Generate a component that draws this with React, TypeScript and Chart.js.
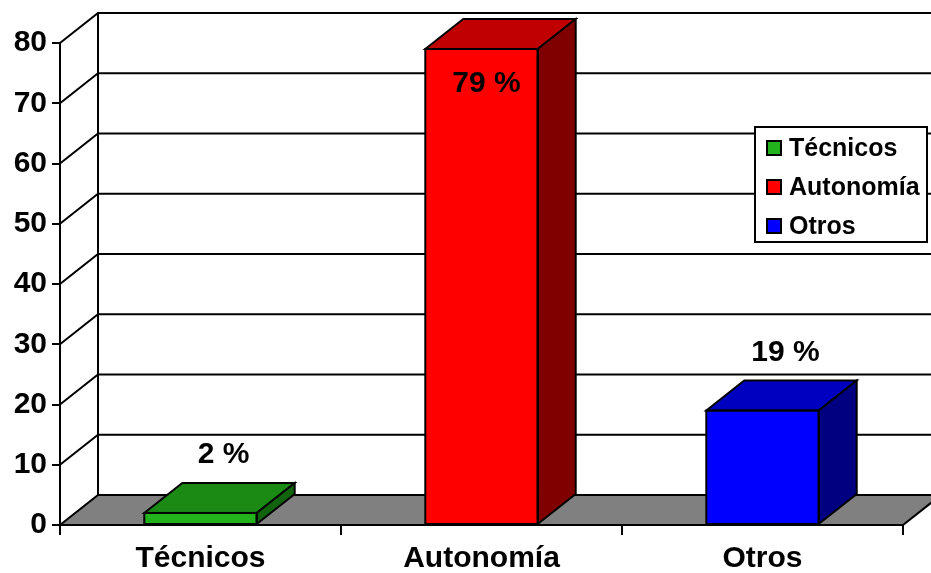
import React, { useEffect, useRef } from "react";
import { Chart, registerables } from "chart.js";

Chart.register(...registerables);

const categories = ["Técnicos", "Autonomía", "Otros"];
const values = [2, 79, 19];
const valueLabels = ["2 %", "79 %", "19 %"];
const yMin = 0;
const yMax = 80;
const yStep = 10;

const frontColors = ["#22B21C", "#FF0000", "#0000FF"];
const topColors = ["#1A8A14", "#C00000", "#0000C0"];
const sideColors = ["#11640D", "#800000", "#000080"];

const DX = 38;
const DY = -30;
const FONT = "'Liberation Sans', Arial, Helvetica, sans-serif";

const threeDPlugin = {
  id: "threeD",
  beforeDraw(chart: any) {
    const { ctx, chartArea: ca, scales } = chart;
    const y = scales.y;
    const y0 = y.getPixelForValue(yMin);
    ctx.save();
    ctx.lineWidth = 2;
    ctx.strokeStyle = "#000";
    ctx.lineJoin = "miter";
    // floor
    ctx.beginPath();
    ctx.moveTo(ca.left, y0);
    ctx.lineTo(ca.right, y0);
    ctx.lineTo(ca.right + DX, y0 + DY);
    ctx.lineTo(ca.left + DX, y0 + DY);
    ctx.closePath();
    ctx.fillStyle = "#808080";
    ctx.fill();
    ctx.stroke();
    // walls and gridlines
    for (let v = yMin + yStep; v <= yMax; v += yStep) {
      const py = y.getPixelForValue(v);
      ctx.beginPath();
      ctx.moveTo(ca.left, py);
      ctx.lineTo(ca.left + DX, py + DY);
      ctx.lineTo(ca.right + DX, py + DY);
      ctx.stroke();
    }
    ctx.beginPath();
    ctx.moveTo(ca.left + DX, y0 + DY);
    ctx.lineTo(ca.left + DX, y.getPixelForValue(yMax) + DY);
    ctx.stroke();
    ctx.beginPath();
    ctx.moveTo(ca.right + DX, y0 + DY);
    ctx.lineTo(ca.right + DX, y.getPixelForValue(yMax) + DY);
    ctx.stroke();
    ctx.restore();
  },
  afterDatasetsDraw(chart: any) {
    const { ctx, chartArea: ca } = chart;
    const meta = chart.getDatasetMeta(0);
    ctx.save();
    ctx.lineWidth = 2;
    ctx.strokeStyle = "#000";
    ctx.lineJoin = "miter";
    meta.data.forEach((bar: any, i: number) => {
      const { x, y, base, width } = bar.getProps(["x", "y", "base", "width"], true);
      const l = x - width / 2;
      const r = x + width / 2;
      // top face
      ctx.beginPath();
      ctx.moveTo(l, y);
      ctx.lineTo(r, y);
      ctx.lineTo(r + DX, y + DY);
      ctx.lineTo(l + DX, y + DY);
      ctx.closePath();
      ctx.fillStyle = topColors[i];
      ctx.fill();
      ctx.stroke();
      // side face
      ctx.beginPath();
      ctx.moveTo(r, y);
      ctx.lineTo(r + DX, y + DY);
      ctx.lineTo(r + DX, base + DY);
      ctx.lineTo(r, base);
      ctx.closePath();
      ctx.fillStyle = sideColors[i];
      ctx.fill();
      ctx.stroke();
      // front outline
      ctx.strokeRect(l, y, width, base - y);
      // value label
      ctx.fillStyle = "#000";
      ctx.font = `bold 30px ${FONT}`;
      ctx.textAlign = "center";
      ctx.textBaseline = "middle";
      const ly = y + DY - 28;
      if (ly - 15 < ca.top + DY) {
        ctx.fillText(valueLabels[i], x + 5, y + 35);
      } else {
        ctx.fillText(valueLabels[i], x + 23, ly);
      }
    });
    ctx.restore();
  },
  afterDraw(chart: any) {
    const { ctx } = chart;
    ctx.save();
    const bx = 755, by = 127, bw = 172, bh = 115;
    ctx.fillStyle = "#fff";
    ctx.fillRect(bx, by, bw, bh);
    ctx.lineWidth = 2;
    ctx.strokeStyle = "#000";
    ctx.strokeRect(bx, by, bw, bh);
    ctx.font = `bold 25px ${FONT}`;
    ctx.textAlign = "left";
    ctx.textBaseline = "middle";
    categories.forEach((c, i) => {
      const cy = by + 21 + i * 39;
      ctx.fillStyle = frontColors[i];
      ctx.fillRect(767, cy - 7, 14, 14);
      ctx.lineWidth = 2;
      ctx.strokeRect(767, cy - 7, 14, 14);
      ctx.fillStyle = "#000";
      ctx.fillText(c, 789, cy + 1);
    });
    ctx.restore();
  },
};

export default function App() {
  const ref = useRef<HTMLCanvasElement | null>(null);
  useEffect(() => {
    document.body.style.margin = "0";
    const canvas = ref.current;
    if (!canvas) return;
    const chart = new Chart(canvas, {
      type: "bar",
      data: {
        labels: categories,
        datasets: [
          {
            label: "Valores",
            data: values,
            backgroundColor: frontColors,
            borderWidth: 0,
            barPercentage: 0.4,
            categoryPercentage: 1,
          },
        ],
      },
      options: {
        responsive: false,
        animation: false,
        layout: { padding: { top: 43, right: 28, left: 0, bottom: 0 } },
        plugins: {
          legend: { display: false },
          tooltip: { enabled: false },
        },
        scales: {
          x: {
            ticks: {
              color: "#000",
              font: { family: FONT, size: 30, weight: "bold" },
              padding: 6,
            },
            grid: {
              drawOnChartArea: false,
              drawTicks: true,
              tickLength: 10,
              color: "#000",
              lineWidth: 2,
              offset: true,
            },
            border: { display: true, color: "#000", width: 2 },
            afterFit: (s: any) => {
              s.height = 48;
            },
          },
          y: {
            min: yMin,
            max: yMax,
            ticks: {
              stepSize: yStep,
              color: "#000",
              font: { family: FONT, size: 30, weight: "bold" },
              padding: 5,
            },
            grid: {
              drawOnChartArea: false,
              drawTicks: true,
              tickLength: 8,
              color: "#000",
              lineWidth: 2,
            },
            border: { display: true, color: "#000", width: 2 },
            afterFit: (s: any) => {
              s.width = 60;
            },
          },
        },
      },
      plugins: [threeDPlugin],
    });
    return () => chart.destroy();
  }, []);
  return (
    <canvas
      ref={ref}
      width={931}
      height={573}
      style={{ display: "block", width: 931, height: 573 }}
    />
  );
}
